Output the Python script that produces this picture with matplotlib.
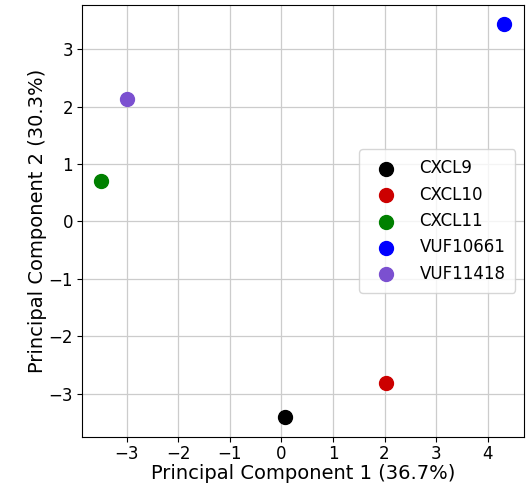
import matplotlib
matplotlib.use("Agg")
import matplotlib.pyplot as plt

labels = ["CXCL9", "CXCL10", "CXCL11", "VUF10661", "VUF11418"]
pc1 = [0.07, 2.03, -3.51, 4.31, -3.0]
pc2 = [-3.41, -2.82, 0.71, 3.43, 2.14]
colors = ["#000000", "#cc0000", "#008000", "#0000ff", "#7b50d0"]

fig = plt.figure(figsize=(5.29, 4.86), dpi=100)
ax = fig.add_axes([0.155, 0.101, 0.835, 0.889])
for x, y, c, l in zip(pc1, pc2, colors, labels):
    ax.scatter(x, y, s=100, color=c, label=l, zorder=3)
ax.set_xlim(-3.87, 4.70)
ax.set_ylim(-3.75, 3.77)
ax.set_xticks(range(-3, 5))
ax.set_yticks(range(-3, 4))
ax.grid(True, color="#cccccc", linewidth=0.9)
ax.set_axisbelow(True)
ax.tick_params(axis="x", labelsize=12, pad=2)
ax.tick_params(axis="y", labelsize=12, pad=3)
ax.set_xlabel("Principal Component 1 (36.7%)", fontsize=14, labelpad=1)
ax.set_ylabel("Principal Component 2 (30.3%)", fontsize=14, labelpad=1)
ax.legend(loc="center right", fontsize=12, borderpad=0.6, labelspacing=0.5,
          handletextpad=1.0)
fig.savefig("out.png", dpi=100)
